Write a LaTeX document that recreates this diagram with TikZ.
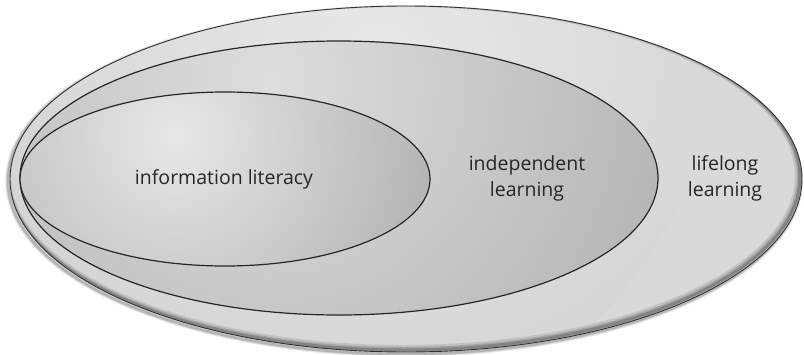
\documentclass[tikz,border=0pt]{standalone}
\usepackage{fontspec}
\setmainfont{Open Sans}
\begin{document}
\begin{tikzpicture}[x=1pt,y=-1pt,
  lab/.style={text=black!85,font=\fontsize{19.5}{26}\selectfont,align=center},
  ring/.style={draw=black!85,line width=1.2pt}]
\useasboundingbox (0,0) rectangle (804,354);
\fill[white] (0,0) rectangle (804,354);
% outer drop shadow
\foreach \w/\o in {6/0.07,4/0.1,2.5/0.15}{
  \draw[black,opacity=\o,line width=\w pt] (404,181) ellipse [x radius=396,y radius=173];
}
% outer ellipse
\path[fill=black!15,path picture={
  \shade[inner color=black!9,outer color=black!17] (330,50) circle (380);
}] (406,179) ellipse [x radius=396,y radius=173];
% inner shadow (bevel) on outer
\begin{scope}
\clip (406,179) ellipse [x radius=396,y radius=173];
\foreach \s/\w/\o in {3/8/0.1,2.5/5/0.14,2/3/0.2}{
  \draw[black,opacity=\o,line width=\w pt] (406-\s,179-\s) ellipse [x radius=396,y radius=173];
}
\end{scope}
\draw[black!80,line width=0.9pt] (406,179) ellipse [x radius=396,y radius=173];
% middle ellipse
\path[ring,path picture={
  \shade[inner color=black!13,outer color=black!29] (270,80) circle (420);
}] (339,178) ellipse [x radius=319,y radius=137];
% inner ellipse
\path[ring,path picture={
  \shade[inner color=black!9,outer color=black!30] (175,135) circle (270);
}] (225,179) ellipse [x radius=205,y radius=87];
% labels
\node[lab] (il) at (224,179) {information literacy};
\node[lab] (ind) at (527,178) {independent\\learning};
\node[lab] (ll) at (725,178) {lifelong\\learning};
\end{tikzpicture}
\end{document}
